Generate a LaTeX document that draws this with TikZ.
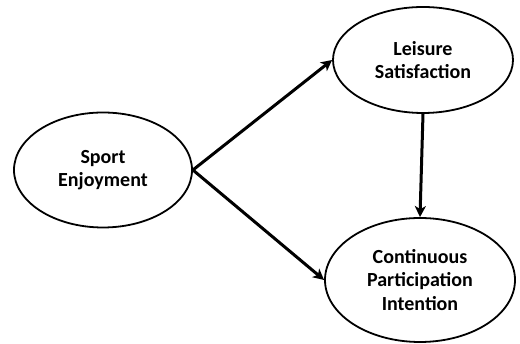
\documentclass[tikz,border=0pt]{standalone}
\usepackage{fontspec}
\setmainfont{Carlito}
\usetikzlibrary{shapes.geometric,arrows.meta}
\colorlet{ovalline}{black}

\begin{document}
\begin{tikzpicture}[x=1pt,y=1pt,
    construct/.style={ellipse, draw=ovalline, line width=1.8pt, inner sep=0pt,
        align=center, font=\fontsize{20}{23.5}\selectfont\bfseries},
    path/.style={draw=ovalline, line width=3pt, -{Stealth[length=11pt,width=11pt,inset=3pt]}}]
        \useasboundingbox (0,0) rectangle (520,344);
        \node[construct, minimum width=178pt, minimum height=115pt] (sport) at (103,174) {Sport\\Enjoyment};
        \node[construct, minimum width=180pt, minimum height=106pt] (leisure) at (423,284) {Leisure\\Satisfaction};
        \node[construct, minimum width=190pt, minimum height=124pt] (intent) at (420,64) {Continuous\\Participation\\Intention};
        \foreach \a/\b in {sport.east/leisure.west,sport.east/intent.west,leisure.south/intent.north}{
            \draw[path](\a)--(\b);
        }
    \end{tikzpicture}
\end{document}
